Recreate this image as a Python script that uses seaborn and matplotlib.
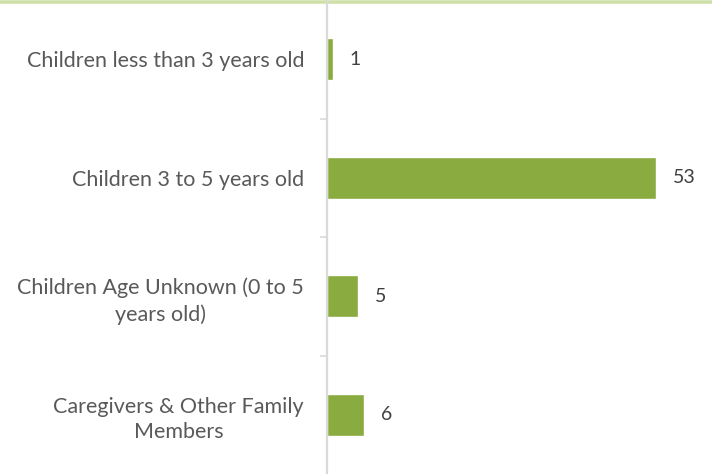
import matplotlib
matplotlib.use("Agg")
import matplotlib.pyplot as plt
import seaborn as sns
import pandas as pd
from matplotlib.lines import Line2D

categories = [
    "Children less than 3 years old",
    "Children 3 to 5 years old",
    "Children Age Unknown (0 to 5\nyears old)",
    "Caregivers & Other Family\nMembers",
]
values = [1, 53, 5, 6]

sns.set_theme(style="white")
plt.rcParams["font.family"] = ["Lato", "DejaVu Sans"]

TEXT = "#595959"
GREEN = "#8aab3f"
AXIS = "#d9d9d9"

df = pd.DataFrame({"category": categories, "value": values})

fig = plt.figure(figsize=(7.12, 4.74), dpi=100)
fig.add_artist(Line2D([0, 1], [1 - 1.75 / 474, 1 - 1.75 / 474], transform=fig.transFigure,
                      color="#cfe0a6", linewidth=3.5 * 72 / 100, zorder=0))
ax = fig.add_axes([327 / 712, 0, 1 - 327 / 712, 1])
ax.set_facecolor("none")

sns.barplot(data=df, y="category", x="value", orient="h", color=GREEN,
            width=0.355, saturation=1, ax=ax)

ax.set_xlim(0, 62)
ax.set_ylim(3.5, -0.5)
ax.set_xlabel("")
ax.set_ylabel("")
ax.set_xticks([])

for s in ["top", "right", "bottom"]:
    ax.spines[s].set_visible(False)
ax.spines["left"].set_color(AXIS)
ax.spines["left"].set_linewidth(1.6)

ax.set_yticks(range(len(categories)))
ax.set_yticklabels(categories, ha="right", multialignment="center", linespacing=1.35)
ax.tick_params(axis="y", which="major", length=0, labelsize=15.5, labelcolor=TEXT, pad=16.5)
ax.set_yticks([0.5, 1.5, 2.5], minor=True)
ax.tick_params(axis="y", which="minor", length=5, color=AXIS, width=1.2, left=True)

for c in ax.containers:
    ax.bar_label(c, padding=12, fontsize=14, color="#404040")

fig.savefig("out.png", dpi=100)
